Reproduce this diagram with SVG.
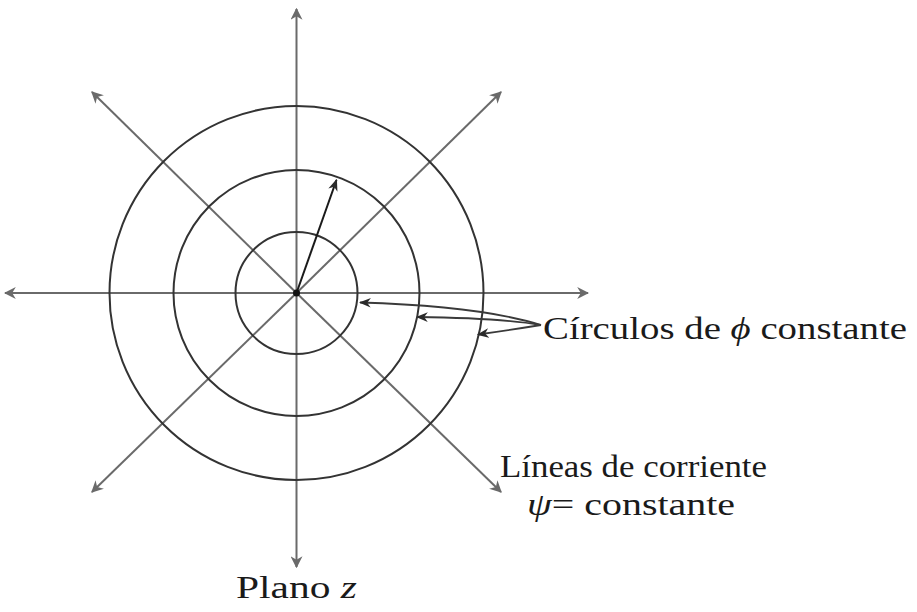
<svg xmlns="http://www.w3.org/2000/svg" width="917" height="612" viewBox="0 0 917 612">
<style>
.ax{stroke:#6a6a6a;stroke-width:2;fill:none;marker-end:url(#ga)}
.ci{stroke:#333;stroke-width:2;fill:none}
.an{stroke:#3a3a3a;stroke-width:1.8;fill:none;marker-end:url(#da)}
text{font-family:"Liberation Serif","Times New Roman",serif;fill:#1a1a1a;font-size:32px}
.it{font-style:italic}
</style>
<defs>
<marker id="ga" viewBox="0 0 10 10" refX="9" refY="5" markerWidth="12" markerHeight="12" orient="auto" markerUnits="userSpaceOnUse">
<path d="M0,0 L10,5 L0,10 L3,5 z" fill="#6a6a6a"/>
</marker>
<marker id="da" viewBox="0 0 10 10" refX="9" refY="5" markerWidth="12" markerHeight="12" orient="auto" markerUnits="userSpaceOnUse">
<path d="M0,1 L10,5 L0,9 L3,5 z" fill="#2a2a2a"/>
</marker>
</defs>
<g id="axes">
<line class="ax" x1="296.5" y1="293" x2="5" y2="293"/>
<line class="ax" x1="296.5" y1="293" x2="588" y2="293"/>
<line class="ax" x1="296.5" y1="293" x2="296.5" y2="9"/>
<line class="ax" x1="296.5" y1="293" x2="296.5" y2="567"/>
<line class="ax" x1="296.5" y1="293" x2="92" y2="92"/>
<line class="ax" x1="296.5" y1="293" x2="501" y2="92"/>
<line class="ax" x1="296.5" y1="293" x2="92" y2="492"/>
<line class="ax" x1="296.5" y1="293" x2="501" y2="492"/>
</g>
<g id="circles">
<circle class="ci" cx="296.5" cy="293" r="61"/>
<circle class="ci" cx="296.5" cy="293" r="123"/>
<circle class="ci" cx="296.5" cy="293" r="187"/>
</g>
<g id="radius">
<line x1="296.5" y1="293" x2="336.5" y2="180" stroke="#1a1a1a" stroke-width="2" marker-end="url(#da)"/>
<circle cx="296.5" cy="293" r="3.5" fill="#111"/>
</g>
<g id="connectors">
<path class="an" d="M541,325 Q480,306 360,302.5"/>
<path class="an" d="M541,325 Q500,318 417,317"/>
<path class="an" d="M541,325 Q510,330 478,334.5"/>
</g>
<g id="label-circulos">
<text x="543" y="339" textLength="364" lengthAdjust="spacingAndGlyphs">Círculos de <tspan class="it">ϕ</tspan> constante</text>
</g>
<g id="label-lineas">
<text x="500" y="477" textLength="267" lengthAdjust="spacingAndGlyphs">Líneas de corriente</text>
<text x="527" y="515" textLength="208" lengthAdjust="spacingAndGlyphs"><tspan class="it">ψ</tspan>= constante</text>
</g>
<g id="label-plano">
<text x="236" y="598" textLength="121" lengthAdjust="spacingAndGlyphs">Plano <tspan class="it">z</tspan></text>
</g>
</svg>
